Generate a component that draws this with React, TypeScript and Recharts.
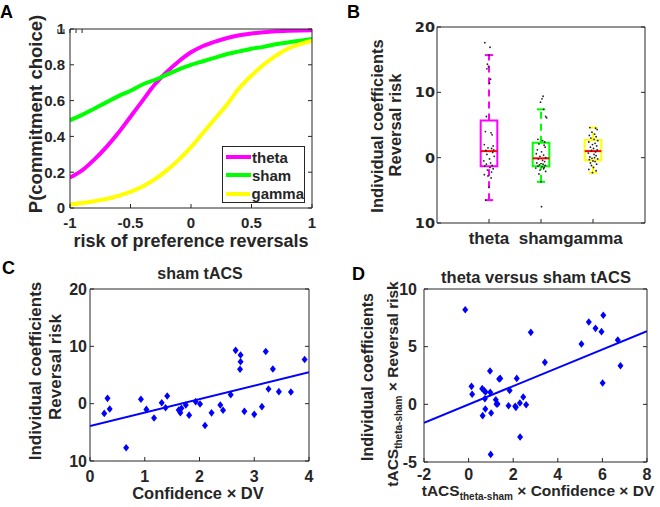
import React from 'react';
import {
  ComposedChart,
  Line,
  Scatter,
  XAxis,
  YAxis,
  ReferenceArea,
  ReferenceLine,
  Legend,
} from 'recharts';

// ---- panel A: fitted choice curves ----
const riskX = [-1, -0.9, -0.8, -0.7, -0.6, -0.5, -0.4, -0.3, -0.2, -0.1, 0, 0.1, 0.2, 0.3, 0.4, 0.5, 0.6, 0.7, 0.8, 0.9, 1];
const thetaP = [0.17, 0.21, 0.27, 0.34, 0.42, 0.51, 0.6, 0.69, 0.76, 0.82, 0.87, 0.905, 0.93, 0.95, 0.965, 0.975, 0.982, 0.987, 0.99, 0.992, 0.993];
const shamP = [0.49, 0.52, 0.555, 0.59, 0.625, 0.655, 0.69, 0.715, 0.745, 0.775, 0.8, 0.82, 0.84, 0.86, 0.875, 0.89, 0.9, 0.915, 0.925, 0.935, 0.944];
const gammaP = [0.02, 0.028, 0.038, 0.05, 0.068, 0.09, 0.12, 0.16, 0.21, 0.27, 0.34, 0.42, 0.5, 0.58, 0.67, 0.74, 0.8, 0.85, 0.89, 0.915, 0.935];
const curveNames = ['theta', 'sham', 'gamma'];
const aXTicks = [-1, -0.5, 0, 0.5, 1];
const aYTicks = [0, 0.2, 0.4, 0.6, 0.8, 1];

// ---- panel B: individual coefficients per condition ----
const boxNames = ['theta', 'sham', 'gamma'];
const boxQ1 = [-1.3, -1.3, -0.4];
const boxMedian = [1.0, -0.1, 1.0];
const boxQ3 = [5.7, 2.3, 2.7];
const whiskerLow = [-6.5, -3.7, -2.3];
const whiskerHigh = [15.7, 7.4, 4.6];
const thetaDots = [17.6, 16.9, 15.7, 14.3, 13.9, 13.6, 12.0, 11.4, 6.3, 4.0, 3.8, 3.5, 2.0, 1.8, 1.5, 1.4, 1.2, 1.1, 0.8, 0.5, 0.2, -0.2, -0.5, -0.8, -1.0, -1.2, -1.3, -1.5, -1.7, -1.9, -2.2, -2.6, -2.8, -3.1, -4.5, -6.5];
const shamDots = [9.4, 9.0, 8.5, 7.4, 6.3, 6.1, 2.8, 2.6, 2.4, 2.1, 1.9, 1.6, 1.2, 0.9, 0.6, 0.4, 0.2, 0.0, -0.2, -0.4, -0.6, -0.8, -0.9, -1.0, -1.1, -1.2, -1.3, -1.4, -1.5, -1.6, -1.7, -1.9, -2.1, -2.5, -3.7, -7.5];
const gammaDots = [4.6, 4.5, 4.3, 3.9, 3.6, 3.4, 3.2, 3.0, 2.8, 2.6, 2.4, 2.2, 2.0, 1.8, 1.6, 1.4, 1.2, 1.1, 0.9, 0.7, 0.5, 0.3, 0.1, 0.0, -0.1, -0.2, -0.3, -0.5, -0.6, -0.8, -1.0, -1.2, -1.5, -1.8, -2.0, -2.3];
const thetaJitter = [-0.08, 0.02, 0.0, -0.03, -0.01, -0.04, 0.03, 0.01, -0.05, -0.07, 0.04, 0.06, -0.09, 0.08, -0.02, 0.05, 0.09, -0.06, 0.07, -0.04, 0.1, 0.01, -0.1, 0.03, -0.05, 0.06, -0.08, 0.02, 0.08, -0.03, 0.05, -0.09, -0.02, 0.04, 0.0, -0.06];
const shamJitter = [0.04, 0.02, -0.01, 0.05, 0.09, 0.11, -0.06, 0.03, 0.07, -0.04, 0.06, 0.08, -0.07, 0.01, -0.09, 0.05, -0.02, 0.09, -0.05, 0.03, 0.07, -0.08, 0.0, 0.04, -0.03, 0.08, -0.06, 0.02, 0.06, -0.1, 0.05, -0.02, 0.09, -0.04, 0.0, 0.01];
const gammaJitter = [-0.06, 0.05, 0.08, -0.02, 0.03, -0.07, 0.06, -0.04, 0.02, 0.09, -0.08, 0.04, -0.01, 0.07, -0.05, 0.01, 0.08, -0.03, 0.05, -0.09, 0.02, 0.06, -0.06, 0.03, -0.02, 0.09, -0.07, 0.0, 0.04, -0.05, 0.07, -0.03, 0.01, -0.08, 0.06, -0.01];
const boxColors = ['#ff00ff', '#00ff00', '#ffff00'];

// ---- panel C: sham tACS ----
const cX = [0.26, 0.32, 0.36, 0.66, 0.93, 1.03, 1.17, 1.31, 1.38, 1.41, 1.62, 1.65, 1.67, 1.75, 1.81, 1.93, 2.01, 2.1, 2.22, 2.38, 2.43, 2.57, 2.66, 2.75, 2.75, 2.74, 2.82, 3.0, 3.14, 3.21, 3.26, 3.34, 3.45, 3.67, 3.92];
const cY = [-1.7, 0.93, -0.93, -7.7, 0.76, -1.0, -2.5, 0.17, -0.7, 1.34, -1.1, -1.57, -0.8, -0.23, -2.0, 0.35, -0.06, -3.8, -1.6, -0.23, -1.16, 1.57, 9.3, 8.5, 7.3, 6.0, -1.34, -1.86, -0.52, 9.1, 2.56, 6.05, 2.1, 2.03, 7.7];
const cFitX = [0, 4];
const cFitY = [-3.9, 5.5];

// ---- panel D: theta versus sham tACS ----
const dX = [-0.15, 0.13, 0.16, 0.61, 0.69, 0.76, 0.73, 0.75, 0.63, 0.96, 0.97, 1.01, 0.99, 1.22, 1.25, 1.3, 1.37, 1.42, 1.84, 1.79, 2.16, 2.09, 2.12, 2.3, 2.45, 2.58, 2.31, 2.79, 3.42, 5.06, 5.39, 5.69, 5.96, 6.04, 6.01, 6.69, 6.81];
const dY = [8.2, 1.56, 0.87, 1.36, 1.21, 1.07, 0.49, -0.4, -0.98, 2.89, 1.04, -0.75, -4.34, 0.4, 0.03, 0.03, 2.2, 2.25, 1.21, -0.12, 2.25, -0.17, -0.26, 0.12, 0.64, -0.03, -2.83, 6.24, 3.64, 5.23, 7.14, 6.59, 6.3, 7.72, 1.85, 5.58, 3.35];
const dFitX = [-2, 8];
const dFitY = [-1.6, 6.35];

const FONT = '"Liberation Sans", Arial, sans-serif';
const INK = '#262626';
const BLUE = '#0000ff';

const tickStyle = (size: number, family = FONT) => ({
  fill: INK,
  fontSize: size,
  fontWeight: 'bold',
  fontFamily: family,
});
const noTick = () => <g />;
const absLabel = (v: number) => String(Math.abs(v));

// top/right axes carry the mirrored inward ticks and close the box
const mirrorAxes = (xDomain: number[], xTicks: number[], yDomain: number[], yTicks: number[]) => [
  <XAxis
    key="top"
    xAxisId="top"
    orientation="top"
    type="number"
    domain={xDomain}
    ticks={xTicks}
    interval={0}
    height={1}
    tickSize={-4}
    tick={noTick}
    stroke={INK}
    allowDataOverflow
  />,
  <YAxis
    key="right"
    yAxisId="right"
    orientation="right"
    type="number"
    domain={yDomain}
    ticks={yTicks}
    interval={0}
    width={1}
    tickSize={-4}
    tick={noTick}
    stroke={INK}
    allowDataOverflow
  />,
];

const renderLegendA = (props: any) => {
  const items = [...(props.payload || [])].sort(
    (a: any, b: any) => curveNames.indexOf(a.value) - curveNames.indexOf(b.value)
  );
  return (
    <div
      style={{
        width: 83,
        height: 57,
        border: `1px solid ${INK}`,
        background: '#fff',
        boxSizing: 'border-box',
        paddingTop: 1,
      }}
    >
      {items.map((p: any) => (
        <div key={p.value} style={{ display: 'flex', alignItems: 'center', height: 18.3 }}>
          <span style={{ width: 25, height: 4, background: p.color, marginLeft: 3, marginRight: 1 }} />
          <span style={{ font: `bold 15px ${FONT}`, color: INK }}>{p.value}</span>
        </div>
      ))}
    </div>
  );
};

const renderDot = (p: any) => <circle cx={p.cx} cy={p.cy} r={0.9} fill="#222" />;

const renderDiamond = (p: any) => (
  <polygon
    points={`${p.cx},${p.cy - 3.8} ${p.cx + 3},${p.cy} ${p.cx},${p.cy + 3.8} ${p.cx - 3},${p.cy}`}
    fill={BLUE}
  />
);

const App = () => {
  const curveData = riskX.map((x, i) => ({ x, theta: thetaP[i], sham: shamP[i], gamma: gammaP[i] }));
  const dotSets = [thetaDots, shamDots, gammaDots].map((vals, g) => {
    const jit = [thetaJitter, shamJitter, gammaJitter][g];
    return vals.map((y, i) => ({ x: g + 1 + jit[i], y }));
  });
  const cPoints = cX.map((x, i) => ({ x, y: cY[i] }));
  const cFit = cFitX.map((x, i) => ({ x, y: cFitY[i] }));
  const dPoints = dX.map((x, i) => ({ x, y: dY[i] }));
  const dFit = dFitX.map((x, i) => ({ x, y: dFitY[i] }));

  const label = { fill: INK, fontWeight: 'bold', fontFamily: FONT } as const;

  return (
    <div style={{ position: 'absolute', left: 0, top: 0, width: 660, height: 507, background: '#fff' }}>
      {/* A */}
      <div style={{ position: 'absolute', left: 0, top: 0 }}>
        <ComposedChart width={330} height={253} data={curveData} margin={{ top: 28, right: 17, bottom: 0, left: 0 }}>
          <XAxis dataKey="x" type="number" domain={[-1, 1]} ticks={aXTicks} interval={0} height={45} tickSize={-4} tickMargin={13} stroke={INK} tick={tickStyle(15)} allowDataOverflow />
          <YAxis type="number" domain={[0, 1]} ticks={aYTicks} interval={0} width={70} tickSize={-4} tickMargin={9} stroke={INK} tick={tickStyle(15)} allowDataOverflow />
          {mirrorAxes([-1, 1], aXTicks, [0, 1], aYTicks)}
          <Line dataKey="theta" name="theta" type="monotone" stroke="#ff00ff" strokeWidth={4} dot={false} isAnimationActive={false} />
          <Line dataKey="sham" name="sham" type="monotone" stroke="#00ff00" strokeWidth={4} dot={false} isAnimationActive={false} />
          <Line dataKey="gamma" name="gamma" type="monotone" stroke="#ffff00" strokeWidth={4} dot={false} isAnimationActive={false} />
          <Legend
            layout="vertical"
            align="center"
            verticalAlign="middle"
            wrapperStyle={{ left: 222, top: 146, width: 83, height: 57 }}
            content={renderLegendA}
          />
        </ComposedChart>
      </div>

      {/* B */}
      <div style={{ position: 'absolute', left: 330, top: 0 }}>
        <ComposedChart width={330} height={253} margin={{ top: 26, right: 14, bottom: 0, left: 0 }}>
          <XAxis dataKey="x" type="number" domain={[0, 4]} ticks={[1, 2, 3]} interval={0} tickFormatter={(v: number) => boxNames[v - 1]} height={30} tickSize={-4} tickMargin={13} stroke={INK} tick={tickStyle(17)} allowDataOverflow />
          <YAxis dataKey="y" type="number" domain={[-10, 20]} ticks={[-10, 0, 10, 20]} interval={0} tickFormatter={absLabel} width={107} tickSize={-4} tickMargin={6} stroke={INK} tick={tickStyle(14.5, '"DejaVu Sans", sans-serif')} allowDataOverflow />
          {mirrorAxes([0, 4], [1, 2, 3], [-10, 20], [-10, 0, 10, 20])}
          {boxNames.map((name, i) => {
            const c = i + 1;
            const col = boxColors[i];
            return [
              <ReferenceLine key={name + 'wu'} segment={[{ x: c, y: boxQ3[i] }, { x: c, y: whiskerHigh[i] }]} stroke={col} strokeWidth={2} strokeDasharray="7 5" />,
              <ReferenceLine key={name + 'wl'} segment={[{ x: c, y: whiskerLow[i] }, { x: c, y: boxQ1[i] }]} stroke={col} strokeWidth={2} strokeDasharray="7 5" />,
              <ReferenceLine key={name + 'cu'} segment={[{ x: c - 0.08, y: whiskerHigh[i] }, { x: c + 0.08, y: whiskerHigh[i] }]} stroke={col} strokeWidth={2} />,
              <ReferenceLine key={name + 'cl'} segment={[{ x: c - 0.08, y: whiskerLow[i] }, { x: c + 0.08, y: whiskerLow[i] }]} stroke={col} strokeWidth={2} />,
              <ReferenceArea key={name + 'box'} x1={c - 0.16} x2={c + 0.16} y1={boxQ1[i]} y2={boxQ3[i]} fill="none" fillOpacity={0} stroke={col} strokeWidth={2} strokeOpacity={1} />,
              <ReferenceLine key={name + 'med'} segment={[{ x: c - 0.16, y: boxMedian[i] }, { x: c + 0.16, y: boxMedian[i] }]} stroke="#ff0000" strokeWidth={2} />,
            ];
          })}
          {dotSets.map((pts, g) => (
            <Scatter key={boxNames[g]} name={boxNames[g]} data={pts} dataKey="y" shape={renderDot} isAnimationActive={false} />
          ))}
        </ComposedChart>
      </div>

      {/* C */}
      <div style={{ position: 'absolute', left: 0, top: 253 }}>
        <ComposedChart width={330} height={254} margin={{ top: 35, right: 20, bottom: 0, left: 0 }}>
          <XAxis dataKey="x" type="number" domain={[0, 4]} ticks={[0, 1, 2, 3, 4]} interval={0} height={46} tickSize={-4} tickMargin={14} stroke={INK} tick={tickStyle(16)} allowDataOverflow />
          <YAxis dataKey="y" type="number" domain={[-10, 20]} ticks={[-10, 0, 10, 20]} interval={0} tickFormatter={absLabel} width={90} tickSize={-4} tickMargin={7} stroke={INK} tick={tickStyle(16)} allowDataOverflow />
          {mirrorAxes([0, 4], [0, 1, 2, 3, 4], [-10, 20], [-10, 0, 10, 20])}
          <Line data={cFit} dataKey="y" type="linear" stroke={BLUE} strokeWidth={2} dot={false} isAnimationActive={false} />
          <Scatter data={cPoints} dataKey="y" fill={BLUE} shape={renderDiamond} isAnimationActive={false} />
        </ComposedChart>
      </div>

      {/* D */}
      <div style={{ position: 'absolute', left: 330, top: 253 }}>
        <ComposedChart width={330} height={254} margin={{ top: 35, right: 12, bottom: 0, left: 0 }}>
          <XAxis dataKey="x" type="number" domain={[-2, 8]} ticks={[-2, 0, 2, 4, 6, 8]} interval={0} height={45} tickSize={-4} tickMargin={11} stroke={INK} tick={tickStyle(16)} allowDataOverflow />
          <YAxis dataKey="y" type="number" domain={[-5, 10]} ticks={[-5, 0, 5, 10]} interval={0} width={94} tickSize={-4} tickMargin={11} stroke={INK} tick={tickStyle(16)} allowDataOverflow />
          {mirrorAxes([-2, 8], [-2, 0, 2, 4, 6, 8], [-5, 10], [-5, 0, 5, 10])}
          <Line data={dFit} dataKey="y" type="linear" stroke={BLUE} strokeWidth={2} dot={false} isAnimationActive={false} />
          <Scatter data={dPoints} dataKey="y" fill={BLUE} shape={renderDiamond} isAnimationActive={false} />
        </ComposedChart>
      </div>

      {/* titles, axis names, panel letters */}
      <svg width={660} height={507} style={{ position: 'absolute', left: 0, top: 0, pointerEvents: 'none' }}>
        <g fill="#000" fontWeight="bold" fontFamily={FONT} fontSize={18}>
          <text x={0} y={18}>A</text>
          <text x={347} y={18}>B</text>
          <text x={2} y={274}>C</text>
          <text x={352} y={280}>D</text>
        </g>

        <text {...label} fontSize={18.5} textAnchor="middle" transform="translate(42,114) rotate(-90)">
          P(commitment choice)
        </text>
        <text {...label} fontSize={18} textAnchor="middle" x={191} y={247}>
          risk of preference reversals
        </text>

        <text {...label} fontSize={16.5} textAnchor="middle" transform="translate(383,126) rotate(-90)">
          Individual coefficients
        </text>
        <text {...label} fontSize={16.5} textAnchor="middle" transform="translate(401,125) rotate(-90)">
          Reversal risk
        </text>

        <text {...label} fontSize={16} textAnchor="middle" x={200} y={279}>
          sham tACS
        </text>
        <text {...label} fontSize={17} textAnchor="middle" transform="translate(41,371) rotate(-90)">
          Individual coefficients
        </text>
        <text {...label} fontSize={17} textAnchor="middle" transform="translate(61,367) rotate(-90)">
          Reversal risk
        </text>
        <text {...label} fontSize={16.5} textAnchor="middle" x={198} y={499}>
          Confidence × DV
        </text>

        <text {...label} fontSize={16.5} textAnchor="middle" x={536} y={283}>
          theta versus sham tACS
        </text>
        <text {...label} fontSize={16} textAnchor="middle" transform="translate(373,377) rotate(-90)">
          Individual coefficients
        </text>
        <text {...label} fontSize={15.5} textAnchor="middle" transform="translate(398,384) rotate(-90)">
          tACS
          <tspan fontSize={10} dy={4}>theta-sham</tspan>
          <tspan dy={-4}> × Reversal risk</tspan>
        </text>
        <text {...label} fontSize={15.5} textAnchor="middle" x={538} y={496}>
          tACS
          <tspan fontSize={10} dy={4}>theta-sham</tspan>
          <tspan dy={-4}> × Confidence × DV</tspan>
        </text>
      </svg>
    </div>
  );
};

export default App;
